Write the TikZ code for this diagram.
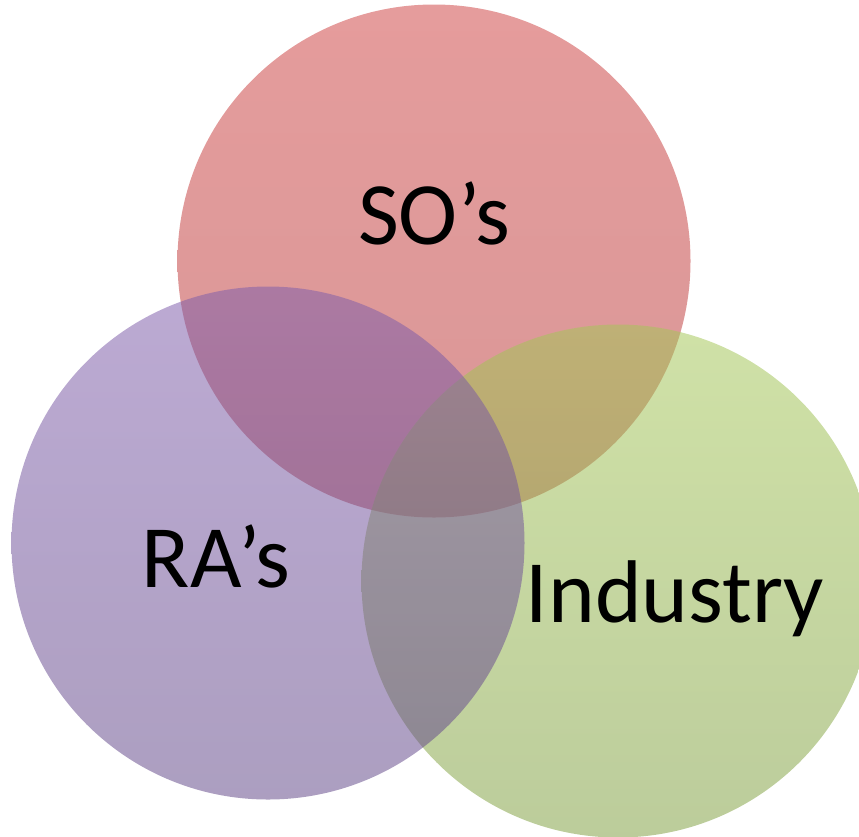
\documentclass[tikz,border=0pt]{standalone}
\usepackage{fontspec}
\setmainfont{Carlito}
\definecolor{redtop}{RGB}{206,68,68}
\definecolor{redbot}{RGB}{182,58,58}
\definecolor{purtop}{RGB}{128,94,172}
\definecolor{purbot}{RGB}{98,72,136}
\definecolor{grntop}{RGB}{165,199,88}
\definecolor{grnbot}{RGB}{128,159,66}
\tikzset{
  venn/.style={circle, minimum size=513pt, inner sep=0pt, draw=none, fill opacity=0.53, shading angle=0},
  lbl/.style={anchor=base, inner sep=0pt, font=\fontsize{89}{89}\selectfont, text=black}
}
\begin{document}
\begin{tikzpicture}[x=1pt, y=-1pt]
\useasboundingbox (0,0) rectangle (859,836);
\clip (0,0) rectangle (859,836);
\node[venn, top color=redtop, bottom color=redbot] (so) at (434,261) {};
\node[venn, top color=grntop, bottom color=grnbot] (ind) at (618,581) {};
\node[venn, top color=purtop, bottom color=purbot] (ra) at (268,543) {};
\node[lbl] (tso) at (434,244) {SO’s};
\node[lbl] (tra) at (216,587) {RA’s};
\node[lbl] (tind) at (675,622) {Industry};
\end{tikzpicture}
\end{document}
